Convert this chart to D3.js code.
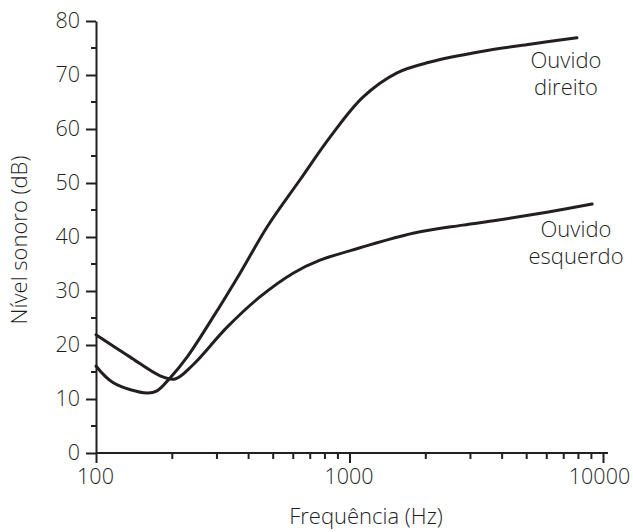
<!DOCTYPE html>
<html>
<head>
<meta charset="utf-8">
<script src="https://cdn.jsdelivr.net/npm/d3@7"></script>
<style>
  body { margin: 0; background: #fff; }
  text { font-family: "Open Sans", sans-serif; font-weight: 300; fill: #1f1f1f; }
</style>
</head>
<body>
<svg id="chart" width="633" height="532"></svg>
<script>
// data (Hz, dB)
var direitoFreq = [100, 117, 159, 174, 196, 229, 290, 370, 475, 638, 838, 1130, 1540, 2080, 3270, 5150, 7890];
var direitoDb   = [16.1, 13.0, 11.1, 11.5, 13.9, 17.8, 25.2, 33.3, 42.0, 50.6, 58.5, 65.9, 70.4, 72.4, 74.3, 75.7, 76.9];
var esquerdoFreq = [100, 136, 179, 205, 241, 329, 443, 599, 765, 1100, 1780, 2800, 3820, 6010, 9060];
var esquerdoDb   = [21.9, 17.8, 14.3, 13.7, 16.3, 23.3, 28.9, 33.3, 35.7, 38.0, 40.7, 42.2, 43.1, 44.6, 46.1];
var xTicks = [100, 1000, 10000];
var yTicks = [0, 10, 20, 30, 40, 50, 60, 70, 80];
var earLabels = [["Ouvido", "direito"], ["Ouvido", "esquerdo"]];

var svg = d3.select("#chart");

var xScale = d3.scaleLog()
  .domain([100, 10000])
  .range([96, 603]);

var yScale = d3.scaleLinear()
  .domain([0, 80])
  .range([453, 21]);

var ink = "#231f20";

// minor ticks
var xMinor = [];
[100, 1000].forEach(function(base) {
  d3.range(2, 10).forEach(function(k) { xMinor.push(base * k); });
});
var yMinor = d3.range(5, 80, 10);

svg.append("g")
  .selectAll("line")
  .data(xMinor)
  .enter()
  .append("line")
  .attr("x1", d => xScale(d))
  .attr("x2", d => xScale(d))
  .attr("y1", yScale(0))
  .attr("y2", yScale(0) + 6)
  .attr("stroke", ink)
  .attr("stroke-width", 2);

svg.append("g")
  .selectAll("line")
  .data(yMinor)
  .enter()
  .append("line")
  .attr("x1", xScale(100) - 5)
  .attr("x2", xScale(100))
  .attr("y1", d => yScale(d))
  .attr("y2", d => yScale(d))
  .attr("stroke", ink)
  .attr("stroke-width", 2);

// x axis
var xAxis = d3.axisBottom(xScale)
  .tickValues(xTicks)
  .tickFormat(d3.format("d"))
  .tickSize(10)
  .tickSizeOuter(0)
  .tickPadding(6);

var gx = svg.append("g")
  .attr("transform", "translate(0," + yScale(0) + ")")
  .call(xAxis);

gx.select(".domain").attr("d", "M" + xScale(100) + ",0H" + (xScale(10000) + 5));

// y axis
var yAxis = d3.axisLeft(yScale)
  .tickValues(yTicks)
  .tickSize(10)
  .tickSizeOuter(0)
  .tickPadding(6);

var gy = svg.append("g")
  .attr("transform", "translate(" + xScale(100) + ",0)")
  .call(yAxis);

[gx, gy].forEach(function(g) {
  g.select(".domain").attr("stroke", ink).attr("stroke-width", 2);
  g.selectAll(".tick line").attr("stroke", ink).attr("stroke-width", 2);
  g.selectAll(".tick text")
    .style("font-family", "Open Sans")
    .style("font-weight", 300)
    .style("font-size", "21.5px")
    .style("fill", "#1f1f1f");
});

gx.selectAll(".tick text").attr("dx", d => d === 10000 ? -4 : -1);

// curves
var line = d3.line()
  .x(d => xScale(d[0]))
  .y(d => yScale(d[1]))
  .curve(d3.curveCatmullRom.alpha(0.5));

var series = [
  d3.zip(direitoFreq, direitoDb),
  d3.zip(esquerdoFreq, esquerdoDb)
];

svg.selectAll(".ear-line")
  .data(series)
  .enter()
  .append("path")
  .attr("class", "ear-line")
  .attr("fill", "none")
  .attr("stroke", ink)
  .attr("stroke-width", 3)
  .attr("stroke-linecap", "round")
  .attr("d", line);

// labels, placed under the end of each curve
var labelPos = [[566, 68], [576, 237]];

svg.selectAll(".ear-label")
  .data(earLabels)
  .enter()
  .append("text")
  .attr("class", "ear-label")
  .attr("text-anchor", "middle")
  .style("font-size", "22px")
  .attr("transform", (d, i) => "translate(" + labelPos[i][0] + "," + labelPos[i][1] + ")")
  .each(function(d) {
    var t = d3.select(this);
    t.append("tspan").attr("x", 0).attr("y", 0).text(d[0]);
    t.append("tspan").attr("x", 0).attr("y", 26.5).text(d[1]);
  });

// axis titles
svg.append("text")
  .attr("x", 366)
  .attr("y", 524)
  .attr("text-anchor", "middle")
  .style("font-size", "22px")
  .text("Frequência (Hz)");

svg.append("text")
  .attr("transform", "rotate(-90)")
  .attr("x", -240)
  .attr("y", 27)
  .attr("text-anchor", "middle")
  .style("font-size", "22px")
  .text("Nível sonoro (dB)");
</script>
</body>
</html>
